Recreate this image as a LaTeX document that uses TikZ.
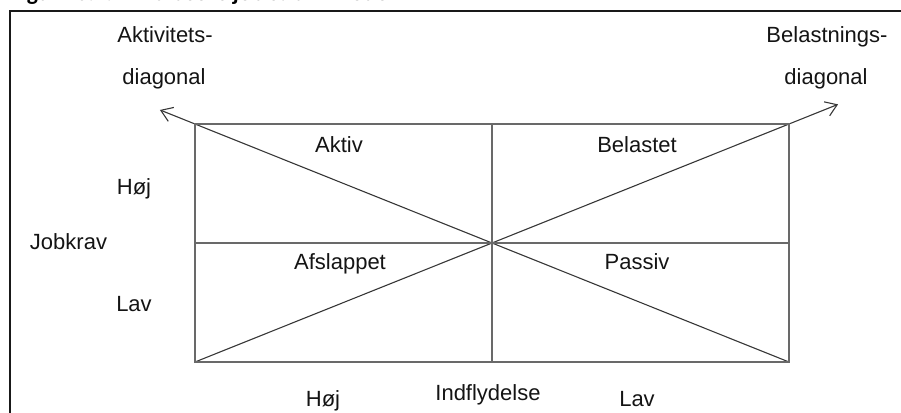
\documentclass[tikz,border=0pt]{standalone}
\usepackage{fontspec}
\setmainfont{Liberation Sans}
\newfontfamily\titlefont{Carlito}
\usetikzlibrary{arrows.meta, positioning, calc}
\definecolor{framecol}{RGB}{25,25,25}
\definecolor{gridcol}{RGB}{105,105,105}
\definecolor{diagcol}{RGB}{55,55,55}
\definecolor{textcol}{RGB}{20,20,20}

\begin{document}
\begin{tikzpicture}[
    x=1pt, y=-1pt,
    lbl/.style={font=\fontsize{22}{26}\selectfont, text=textcol, inner sep=0pt, anchor=base},
    gridline/.style={draw=gridcol, line width=1.8pt},
    diagline/.style={draw=diagcol, line width=1.1pt},
    arrow/.style={diagline, -{Straight Barb[length=11pt, width=15pt, line width=1.1pt]}},
]
    \clip (0,0) rectangle (901,412);
    \draw[framecol, line width=2pt] (10,11) rectangle (940,440);
    \node[anchor=base west, inner sep=0pt, font=\titlefont\bfseries\fontsize{23.5}{28}\selectfont] (title) at (10,1) {Figur 10.2.1 - Karaseks job strain-model};

    % the four quadrants
    \coordinate (tl) at (195,124);
    \coordinate (br) at (789,362);
    \coordinate (bl) at (tl |- br);
    \coordinate (tr) at (br |- tl);
    \coordinate (mid) at ($(tl)!0.5!(br)$);
    \coordinate (aktend) at ($(br)!1.059!(tl)$);
    \coordinate (belend) at ($(bl)!1.0825!(tr)$);

    \draw[arrow] (br) -- (aktend);
    \draw[arrow] (bl) -- (belend);
    \draw[gridline] (tl) rectangle (br);
    \draw[gridline] (tl |- mid) -- (br |- mid);
    \draw[gridline] (mid |- tl) -- (mid |- br);

    % diagonal labels
    \node[lbl] (akt1) at (165,42) {Aktivitets-};
    \node[lbl] (akt2) at (164,84) {diagonal};
    \node[lbl] (bel1) at (827,42) {Belastnings-};
    \node[lbl] (bel2) at (826,84) {diagonal};

    % quadrant labels
    \node[lbl] (aktiv) at (339,152) {Aktiv};
    \node[lbl] (belastet) at (637,152) {Belastet};
    \node[lbl] (afslappet) at (340,269) {Afslappet};
    \node[lbl] (passiv) at (637,269) {Passiv};

    % axes
    \node[lbl] (kravhoj) at (134,194) {Høj};
    \node[lbl] (jobkrav) at (68.5,249) {Jobkrav};
    \node[lbl] (kravlav) at (134,311) {Lav};
    \node[lbl] (indhoj) at (323,406) {Høj};
    \node[lbl] (indflydelse) at (488,400) {Indflydelse};
    \node[lbl] (indlav) at (637,406) {Lav};
\end{tikzpicture}
\end{document}
